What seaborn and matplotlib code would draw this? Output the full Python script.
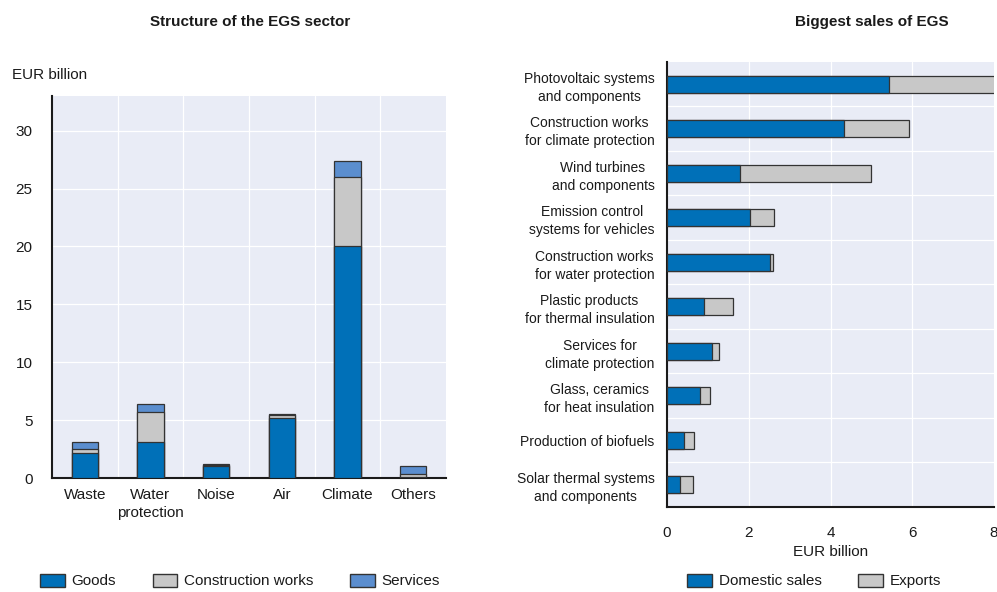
import matplotlib
matplotlib.use("Agg")
import matplotlib.pyplot as plt
import seaborn as sns
import pandas as pd
import numpy as np
from matplotlib.patches import Patch
from matplotlib.ticker import FixedLocator

# ---------------- data ----------------
sectors = ["Waste", "Water\nprotection", "Noise", "Air", "Climate", "Others"]
goods = [2.15, 3.15, 1.0, 5.2, 20.05, 0.05]
construction = [0.35, 2.55, 0.1, 0.2, 5.95, 0.3]
services = [0.6, 0.65, 0.1, 0.15, 1.4, 0.7]

products = [
    "Photovoltaic systems\nand components",
    "Construction works\nfor climate protection",
    "Wind turbines\nand components",
    "Emission control\nsystems for vehicles",
    "Construction works\nfor water protection",
    "Plastic products\nfor thermal insulation",
    "Services for\nclimate protection",
    "Glass, ceramics\nfor heat insulation",
    "Production of biofuels",
    "Solar thermal systems\nand components",
]
domestic = [5.43, 4.33, 1.78, 2.04, 2.53, 0.91, 1.10, 0.81, 0.42, 0.32]
exports = [2.59, 1.60, 3.22, 0.58, 0.07, 0.71, 0.17, 0.23, 0.25, 0.31]

# ---------------- style ----------------
C_GOODS = "#0070b8"
C_CONS = "#c8c8c8"
C_SERV = "#5b8ecf"
BG = "#e9ecf6"
EDGE = "#333333"
SPINE = "#1a1a1a"
TXT = "#1a1a1a"

sns.set_style("white")
plt.rcParams["font.family"] = ["Liberation Sans", "DejaVu Sans"]
plt.rcParams["font.size"] = 11
plt.rcParams["text.color"] = TXT
plt.rcParams["xtick.color"] = TXT
plt.rcParams["ytick.color"] = TXT
plt.rcParams["axes.labelcolor"] = TXT

fig = plt.figure(figsize=(9.97, 5.92), dpi=100)

# ---------------- left chart ----------------
axL = fig.add_axes([52 / 997, (592 - 478) / 592, (446 - 52) / 997, (478 - 96) / 592])
axL.set_facecolor(BG)
dfL = pd.DataFrame({"sector": sectors, "goods": goods,
                    "construction": construction, "services": services})
dfL["gc"] = dfL["goods"] + dfL["construction"]
dfL["total"] = dfL["gc"] + dfL["services"]

for col, colr in [("total", C_SERV), ("gc", C_CONS), ("goods", C_GOODS)]:
    sns.barplot(data=dfL, x="sector", y=col, color=colr, width=0.4,
                edgecolor=EDGE, linewidth=0.9, saturation=1, ax=axL, zorder=3)

axL.set_xlim(-0.5, len(sectors) - 0.5)
axL.set_ylim(0, 33)
axL.set_xlabel("")
axL.set_ylabel("")
axL.set_yticks([0, 5, 10, 15, 20, 25, 30])
axL.xaxis.set_minor_locator(FixedLocator(np.arange(0.5, len(sectors) - 0.5, 1)))
axL.tick_params(axis="x", which="major", length=0, pad=7, labelsize=11)
axL.tick_params(axis="x", which="minor", direction="in", length=5, width=1, color=SPINE)
axL.tick_params(axis="y", direction="in", length=5, width=1, color=SPINE, pad=14, labelsize=11)
for lab in axL.get_xticklabels():
    lab.set_multialignment("center")
    lab.set_linespacing(1.4)
axL.grid(False)
for y in [5, 10, 15, 20, 25, 30]:
    axL.axhline(y, color="white", lw=0.9, zorder=1)
for x in np.arange(0.5, len(sectors) - 0.5, 1):
    axL.axvline(x, color="white", lw=0.9, zorder=1)
for s in ["top", "right"]:
    axL.spines[s].set_visible(False)
for s in ["left", "bottom"]:
    axL.spines[s].set_color(SPINE)
    axL.spines[s].set_linewidth(1.5)

fig.text(12 / 997, 1 - 75 / 592, "EUR billion", fontsize=11, va="center", ha="left")
fig.text(250 / 997, 1 - 22 / 592, "Structure of the EGS sector", fontsize=11,
         fontweight="bold", ha="center", va="center")

legL = [Patch(facecolor=C_GOODS, edgecolor=EDGE, label="Goods"),
        Patch(facecolor=C_CONS, edgecolor=EDGE, label="Construction works"),
        Patch(facecolor=C_SERV, edgecolor=EDGE, label="Services")]
fig.legend(handles=legL, loc="center", bbox_to_anchor=(240 / 997, 1 - 581 / 592),
           ncol=3, frameon=False, fontsize=11, handlelength=1.6, handleheight=0.95,
           handletextpad=0.45, columnspacing=2.4)

# ---------------- right chart ----------------
axR = fig.add_axes([667 / 997, (592 - 507) / 592, (994 - 667) / 997, (507 - 62) / 592])
axR.set_facecolor(BG)
dfR = pd.DataFrame({"product": products, "domestic": domestic, "exports": exports})
dfR["total"] = dfR["domestic"] + dfR["exports"]

for col, colr in [("total", C_CONS), ("domestic", C_GOODS)]:
    sns.barplot(data=dfR, y="product", x=col, color=colr, width=0.39, orient="y",
                edgecolor=EDGE, linewidth=0.9, saturation=1, ax=axR, zorder=3)

axR.set_xlim(0, 8)
axR.set_ylim(len(products) - 0.5, -0.5)
axR.set_ylabel("")
axR.set_xlabel("EUR billion", fontsize=11, labelpad=3)
axR.set_xticks([0, 2, 4, 6, 8])
axR.yaxis.set_minor_locator(FixedLocator(np.arange(-0.5, len(products) - 0.5, 1)))
axR.tick_params(axis="y", which="major", length=0, pad=9, labelsize=10)
axR.tick_params(axis="y", which="minor", direction="in", length=5, width=1, color=SPINE)
axR.tick_params(axis="x", direction="in", length=5, width=1, color=SPINE, pad=14, labelsize=11)
for lab in axR.get_yticklabels():
    lab.set_multialignment("center")
    lab.set_linespacing(1.35)
axR.grid(False)
for x in [2, 4, 6]:
    axR.axvline(x, color="white", lw=0.9, zorder=1)
for y in np.arange(0.5, len(products) - 0.5, 1):
    axR.axhline(y, color="white", lw=0.9, zorder=1)
for s in ["top", "right"]:
    axR.spines[s].set_visible(False)
for s in ["left", "bottom"]:
    axR.spines[s].set_color(SPINE)
    axR.spines[s].set_linewidth(1.5)

fig.text(872 / 997, 1 - 22 / 592, "Biggest sales of EGS", fontsize=11,
         fontweight="bold", ha="center", va="center")

legR = [Patch(facecolor=C_GOODS, edgecolor=EDGE, label="Domestic sales"),
        Patch(facecolor=C_CONS, edgecolor=EDGE, label="Exports")]
fig.legend(handles=legR, loc="center", bbox_to_anchor=(814 / 997, 1 - 581 / 592),
           ncol=2, frameon=False, fontsize=11, handlelength=1.6, handleheight=0.95,
           handletextpad=0.45, columnspacing=2.4)

fig.savefig("out.png", dpi=100)
